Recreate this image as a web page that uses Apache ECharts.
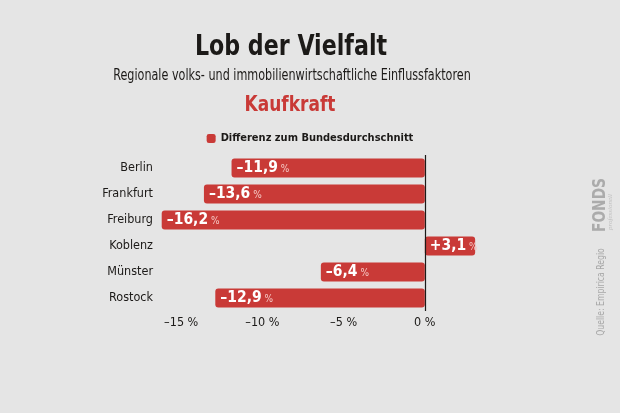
<!DOCTYPE html>
<html><head><meta charset="utf-8">
<script src="https://cdn.jsdelivr.net/npm/echarts@6/dist/echarts.min.js"></script>
<style>html,body{margin:0;padding:0;background:#e5e5e5}#c{width:620px;height:413px}</style>
</head><body><div id="c"></div>
<script>
var categories = ['Berlin','Frankfurt','Freiburg','Koblenz','Münster','Rostock'];
var values = [-11.9, -13.6, -16.2, 3.1, -6.4, -12.9];
var seriesName = 'Differenz zum Bundesdurchschnitt';
var tickValues = [-15, -10, -5, 0];
var FONT = '"DejaVu Sans Condensed","Liberation Sans Narrow",sans-serif';
var RED = '#c93a37';
var DARK = '#1c1a18';

function fmt(v){
  var s = Math.abs(v).toFixed(1).replace('.', ',');
  return (v < 0 ? '–' : '+') + s;
}

var chart = echarts.init(document.getElementById('c'));
chart.setOption({
  backgroundColor: '#e5e5e5',
  animation: false,
  legend: {
    data: [seriesName], left: 'center', top: 128, itemWidth: 9, itemHeight: 9, itemGap: 6,
    icon: 'roundRect',
    textStyle: {fontFamily: FONT, fontWeight: 'bold', fontSize: 11, color: DARK}
  },
  grid: {left: 100, right: 114, top: 155, height: 156, containLabel: false},
  xAxis: {
    type: 'value', min: -20, max: 5, interval: 5,
    axisLine: {show: false}, axisTick: {show: false}, splitLine: {show: false},
    axisLabel: {
      margin: 5, fontFamily: FONT, fontSize: 12.5, color: DARK,
      formatter: function(v){ return tickValues.indexOf(v) >= 0 ? (v < 0 ? '–' + Math.abs(v) : v) + ' %' : ''; }
    }
  },
  yAxis: {
    type: 'category', data: categories, inverse: true,
    axisLine: {show: false}, axisTick: {show: false},
    axisLabel: {margin: -53, fontFamily: FONT, fontSize: 12.5, color: DARK}
  },
  series: [{
    name: seriesName, type: 'bar', data: values, barWidth: 19,
    itemStyle: {color: RED, borderRadius: 3},
    label: {
      show: true, position: 'insideLeft', distance: 5,
      formatter: function(p){ return '{a|' + fmt(p.value) + '}{b| %}'; },
      rich: {
        a: {fontFamily: FONT, fontWeight: 'bold', fontSize: 15.5, color: '#ffffff'},
        b: {fontFamily: FONT, fontSize: 10, color: '#f5c9c5', padding: [2,0,0,0]}
      }
    },
    markLine: {
      silent: true, symbol: 'none', label: {show: false},
      lineStyle: {color: DARK, width: 1.2, type: 'solid'},
      data: [{xAxis: 0}]
    },
    z: 2
  }],
  graphic: [
    {type: 'text', x: 291, y: 48, scaleX: 0.88,
     style: {text: 'Lob der Vielfalt', fontFamily: FONT, fontWeight: 'bold', fontSize: 28, fill: DARK, textAlign: 'center', textVerticalAlign: 'middle'}},
    {type: 'text', x: 292, y: 76, scaleX: 0.83,
     style: {text: 'Regionale volks- und immobilienwirtschaftliche Einflussfaktoren', fontFamily: FONT, fontSize: 15, fill: DARK, textAlign: 'center', textVerticalAlign: 'middle'}},
    {type: 'text', x: 290, y: 106, scaleX: 0.9,
     style: {text: 'Kaufkraft', fontFamily: FONT, fontWeight: 'bold', fontSize: 21, fill: RED, textAlign: 'center', textVerticalAlign: 'middle'}},
    {type: 'text', x: 600, y: 205, rotation: Math.PI/2, scaleX: 0.85,
     style: {text: 'FONDS', fontFamily: FONT, fontWeight: 'bold', fontSize: 18, fill: '#ababab', textAlign: 'center', textVerticalAlign: 'middle'}},
    {type: 'text', x: 610, y: 212, rotation: Math.PI/2,
     style: {text: 'professionell', fontFamily: 'serif', fontStyle: 'italic', fontSize: 7, fill: '#c0c0c0', textAlign: 'center', textVerticalAlign: 'middle'}},
    {type: 'text', x: 601, y: 292, rotation: Math.PI/2, scaleX: 0.78,
     style: {text: 'Quelle: Empirica Regio', fontFamily: FONT, fontSize: 11, fill: '#a8a8a8', textAlign: 'center', textVerticalAlign: 'middle'}}
  ]
});
</script></body></html>
